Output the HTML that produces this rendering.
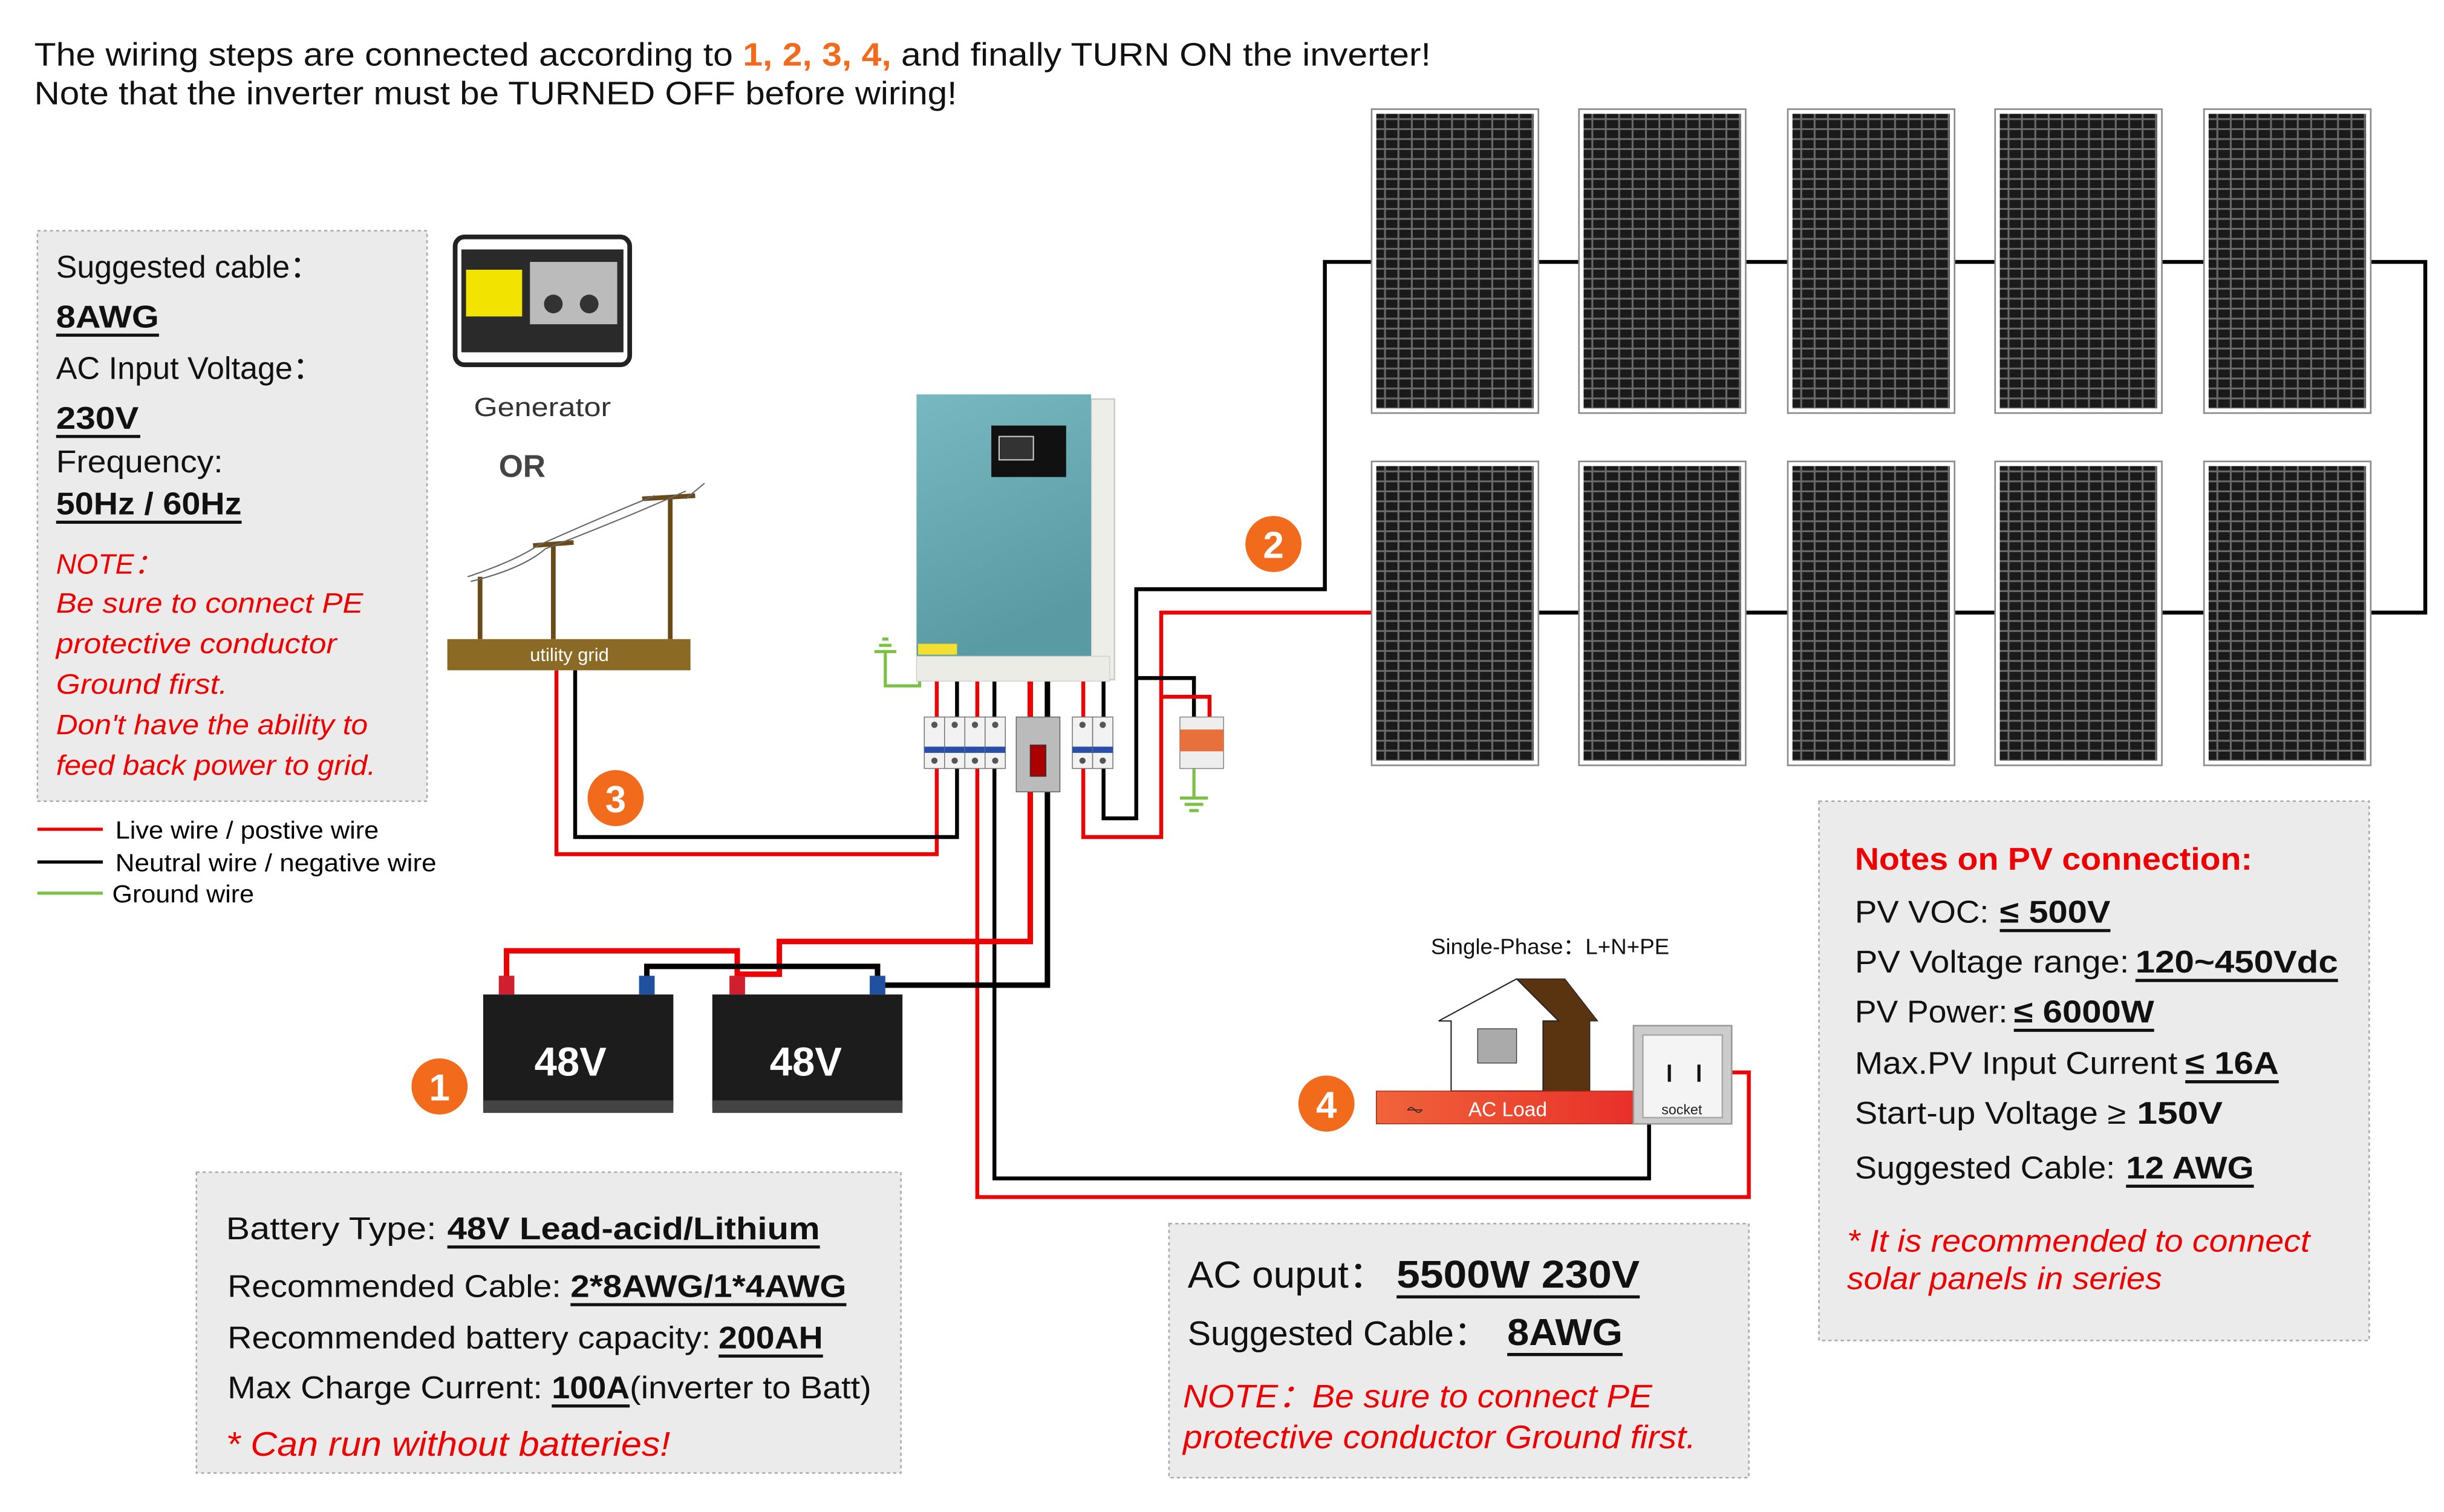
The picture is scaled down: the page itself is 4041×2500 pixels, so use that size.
<!DOCTYPE html>
<html><head><meta charset="utf-8"><style>
html,body{margin:0;padding:0;background:#fff;width:4041px;height:2500px;overflow:hidden}
svg{display:block}
text{font-family:"Liberation Sans",Arial,sans-serif}
</style></head><body>
<svg width="4041" height="2500" viewBox="0 0 1568 970" xmlns="http://www.w3.org/2000/svg">
<defs>
<pattern id="cells" x="0" y="0" width="8.6" height="6.4" patternUnits="userSpaceOnUse">
<rect width="8.6" height="6.4" fill="#6a6a6a"/><rect x="0.6" y="0.6" width="7.4" height="5.2" fill="#1a1a1a"/>
</pattern>
<linearGradient id="acg" x1="0" x2="1"><stop offset="0" stop-color="#f0643a"/><stop offset="1" stop-color="#e8302a"/></linearGradient>
<linearGradient id="inv" x1="0" y1="0" x2="0.3" y2="1"><stop offset="0" stop-color="#78b8c0"/><stop offset="1" stop-color="#5a9aa2"/></linearGradient>
<g id="panel"><rect x="0" y="0" width="107" height="195" fill="#fff" stroke="#888" stroke-width="1"/><rect x="3" y="3" width="101" height="189" fill="url(#cells)"/></g>
<g id="brk"><rect x="0" y="0" width="13" height="33" fill="#f2f2f2" stroke="#777" stroke-width="0.6"/><circle cx="6.5" cy="5" r="2" fill="#555"/><circle cx="6.5" cy="28" r="2" fill="#555"/><rect x="0" y="19" width="13" height="4" fill="#2a4fa8"/></g>
</defs>
<text x="22" y="42" font-size="21" fill="#111" textLength="896" lengthAdjust="spacingAndGlyphs">The wiring steps are connected according to <tspan fill="#f26a1b" font-weight="bold">1, 2, 3, 4,</tspan> and finally TURN ON the inverter!</text>
<text x="22" y="67" font-size="21" fill="#111" textLength="592" lengthAdjust="spacingAndGlyphs">Note that the inverter must be TURNED OFF before wiring!</text>

<g fill="none" stroke-width="2.5">
<polyline points="880,168 850,168 850,378 729,378 729,525 708,525 708,493" stroke="#000"/>
<polyline points="880,393 745,393 745,537 695,537 695,493" stroke="#e00"/>
<polyline points="987,168 1013,168" stroke="#000"/><polyline points="1120,168 1147,168" stroke="#000"/><polyline points="1254,168 1280,168" stroke="#000"/><polyline points="1387,168 1414,168" stroke="#000"/>
<polyline points="987,393 1013,393" stroke="#000"/><polyline points="1120,393 1147,393" stroke="#000"/><polyline points="1254,393 1280,393" stroke="#000"/><polyline points="1387,393 1414,393" stroke="#000"/>
<polyline points="1521,168 1556,168 1556,393 1521,393" stroke="#000"/>
<polyline points="729,435 766,435 766,462" stroke="#000"/>
<polyline points="745,447 776,447 776,462" stroke="#e00"/>
</g>
<use href="#panel" x="880" y="70"/><use href="#panel" x="1013" y="70"/><use href="#panel" x="1147" y="70"/><use href="#panel" x="1280" y="70"/><use href="#panel" x="1414" y="70"/>
<use href="#panel" x="880" y="296"/><use href="#panel" x="1013" y="296"/><use href="#panel" x="1147" y="296"/><use href="#panel" x="1280" y="296"/><use href="#panel" x="1414" y="296"/>

<g fill="none" stroke-width="2.5">
<polyline points="601,437 601,548 357,548 357,430" stroke="#e00"/>
<polyline points="614,437 614,537 369,537 369,430" stroke="#000"/>
<polyline points="627,437 627,768 1122,768 1122,688 1090,688" stroke="#e00"/>
<polyline points="638,437 638,756 1058,756 1058,688 1068,688" stroke="#000"/>
<polyline points="661,437 661,604 500,604 500,625 473,625 473,630" stroke="#e00" stroke-width="3.5"/>
<polyline points="672,437 672,632 563,632 563,628" stroke="#000" stroke-width="3.5"/>
<polyline points="325,630 325,610 473,610 473,630" stroke="#e00" stroke-width="3.5"/>
<polyline points="415,630 415,620 563,620 563,630" stroke="#000" stroke-width="3.5"/>
<polyline points="695,437 695,462" stroke="#e00"/><polyline points="708,437 708,462" stroke="#000"/>
<polyline points="590,430 590,440 568,440 568,418" stroke="#7ac143" stroke-width="2"/>
<polyline points="766,493 766,512" stroke="#7ac143" stroke-width="2"/>
</g>
<g stroke="#7ac143" stroke-width="2"><line x1="561" y1="418" x2="575" y2="418"/><line x1="564" y1="414" x2="572" y2="414"/><line x1="566" y1="410" x2="570" y2="410"/>
<line x1="757" y1="512" x2="775" y2="512"/><line x1="760" y1="516" x2="772" y2="516"/><line x1="763" y1="520" x2="769" y2="520"/></g>

<rect x="700" y="256" width="15" height="180" fill="#eeeee8" stroke="#ccc"/>
<rect x="588" y="253" width="112" height="168" fill="url(#inv)"/>
<rect x="588" y="421" width="124" height="16" fill="#ecece6" stroke="#ccc" stroke-width="0.5"/>
<rect x="636" y="273" width="48" height="33" fill="#111"/><rect x="641" y="280" width="22" height="15" fill="#333" stroke="#ccc" stroke-width="0.8"/>
<rect x="589" y="413" width="25" height="7" fill="#f2e030"/>
<use href="#brk" x="593" y="460"/><use href="#brk" x="606" y="460"/><use href="#brk" x="619" y="460"/><use href="#brk" x="632" y="460"/>
<rect x="652" y="460" width="28" height="48" fill="#bbb" stroke="#666" stroke-width="0.6"/><rect x="661" y="478" width="10" height="20" fill="#a00" stroke="#333" stroke-width="0.6"/>
<use href="#brk" x="688" y="460"/><use href="#brk" x="701" y="460"/>
<rect x="757" y="460" width="28" height="33" fill="#eee" stroke="#888" stroke-width="0.6"/><rect x="757" y="468" width="28" height="14" fill="#e8703a"/>

<rect x="24" y="148" width="250" height="366" fill="#ebebeb" stroke="#aaa" stroke-dasharray="2,2"/>
<g font-size="20" fill="#111">
<text x="36" y="178" textLength="170" lengthAdjust="spacingAndGlyphs">Suggested cable：</text>
<text x="36" y="210" font-weight="bold" textLength="66" lengthAdjust="spacingAndGlyphs">8AWG</text><line x1="36" y1="215" x2="102" y2="215" stroke="#111" stroke-width="2"/>
<text x="36" y="243" textLength="172" lengthAdjust="spacingAndGlyphs">AC Input Voltage：</text>
<text x="36" y="275" font-weight="bold" textLength="53" lengthAdjust="spacingAndGlyphs">230V</text><line x1="36" y1="280" x2="90" y2="280" stroke="#111" stroke-width="2"/>
<text x="36" y="303" textLength="107" lengthAdjust="spacingAndGlyphs">Frequency:</text>
<text x="36" y="330" font-weight="bold" textLength="119" lengthAdjust="spacingAndGlyphs">50Hz / 60Hz</text><line x1="36" y1="335" x2="155" y2="335" stroke="#111" stroke-width="2"/>
</g>
<g font-size="18" fill="#e00" font-style="italic">
<text x="36" y="368">NOTE：</text>
<text x="36" y="393" textLength="197" lengthAdjust="spacingAndGlyphs">Be sure to  connect PE</text>
<text x="36" y="419" textLength="180" lengthAdjust="spacingAndGlyphs">protective  conductor</text>
<text x="36" y="445" textLength="110" lengthAdjust="spacingAndGlyphs">Ground  first.</text>
<text x="36" y="471" textLength="200" lengthAdjust="spacingAndGlyphs">Don't have the ability to</text>
<text x="36" y="497" textLength="205" lengthAdjust="spacingAndGlyphs">feed back power to grid.</text>
</g>
<line x1="24" y1="532" x2="66" y2="532" stroke="#e00" stroke-width="2"/><text x="74" y="538" font-size="16" textLength="169" lengthAdjust="spacingAndGlyphs">Live wire / postive wire</text>
<line x1="24" y1="553" x2="66" y2="553" stroke="#000" stroke-width="2"/><text x="74" y="559" font-size="16" textLength="206" lengthAdjust="spacingAndGlyphs">Neutral wire / negative wire</text>
<line x1="24" y1="573" x2="66" y2="573" stroke="#7ac143" stroke-width="2"/><text x="72" y="579" font-size="16" textLength="91" lengthAdjust="spacingAndGlyphs">Ground wire</text>

<!-- generator -->
<g stroke="#222" stroke-width="3" fill="none"><rect x="292" y="152" width="112" height="82" rx="6"/></g>
<rect x="296" y="160" width="104" height="66" fill="#2a2a2a"/>
<rect x="299" y="173" width="36" height="30" fill="#f2e300"/><rect x="340" y="168" width="56" height="40" fill="#bbb"/>
<circle cx="355" cy="195" r="6" fill="#333"/><circle cx="378" cy="195" r="6" fill="#333"/>
<text x="304" y="267" font-size="17" fill="#333" textLength="88" lengthAdjust="spacingAndGlyphs">Generator</text>
<text x="320" y="306" font-size="20" font-weight="bold" fill="#444">OR</text>
<g stroke="#6b4a1a" stroke-width="3"><line x1="430" y1="318" x2="430" y2="410"/><line x1="355" y1="350" x2="355" y2="410"/><line x1="308" y1="370" x2="308" y2="410"/><line x1="412" y1="320" x2="446" y2="318"/><line x1="342" y1="350" x2="368" y2="348"/></g>
<g stroke="#666" stroke-width="0.8" fill="none"><path d="M300,370 Q330,360 345,350 Q390,330 420,318"/><path d="M302,373 Q335,365 350,352 Q395,335 440,315"/><path d="M440,320 L452,310"/></g>
<rect x="287" y="410" width="156" height="20" fill="#8b6a25"/>
<text x="340" y="424" font-size="12" fill="#fff">utility grid</text>

<g font-weight="bold" font-size="24" fill="#fff" text-anchor="middle">
<circle cx="817" cy="349" r="18" fill="#f26a1b"/><text x="817" y="358">2</text>
<circle cx="395" cy="512" r="18" fill="#f26a1b"/><text x="395" y="521">3</text>
<circle cx="282" cy="697" r="18" fill="#f26a1b"/><text x="282" y="706">1</text>
<circle cx="851" cy="708" r="18" fill="#f26a1b"/><text x="851" y="717">4</text>
</g>

<g>
<rect x="320" y="626" width="10" height="12" fill="#d02030"/><rect x="410" y="626" width="10" height="12" fill="#2050a0"/>
<rect x="310" y="638" width="122" height="72" fill="#1c1c1c"/><rect x="310" y="706" width="122" height="8" fill="#444"/>
<text x="366" y="690" font-size="26" font-weight="bold" fill="#fff" text-anchor="middle">48V</text>
<rect x="468" y="626" width="10" height="12" fill="#d02030"/><rect x="558" y="626" width="10" height="12" fill="#2050a0"/>
<rect x="457" y="638" width="122" height="72" fill="#1c1c1c"/><rect x="457" y="706" width="122" height="8" fill="#444"/>
<text x="517" y="690" font-size="26" font-weight="bold" fill="#fff" text-anchor="middle">48V</text>
</g>

<text x="918" y="612" font-size="14" fill="#111" textLength="153" lengthAdjust="spacingAndGlyphs">Single-Phase：L+N+PE</text>
<polygon points="973,628 1004,628 1025,655 1020,655 1020,700 988,700" fill="#5a3410" stroke="#222" stroke-width="0.5"/>
<polygon points="923,655 973,628 1000,655 990,655 990,700 931,700 931,655" fill="#fff" stroke="#222" stroke-width="0.8"/>
<rect x="948" y="660" width="25" height="22" fill="#aaa" stroke="#333" stroke-width="0.5"/>
<rect x="883" y="700" width="165" height="21" fill="url(#acg)" stroke="#a02010" stroke-width="0.5"/>
<text x="942" y="716" font-size="13" fill="#fff">AC Load</text>
<text x="902" y="716" font-size="14" fill="#222">⏦</text>
<rect x="1048" y="658" width="63" height="63" fill="#ccc" stroke="#999"/><rect x="1054" y="664" width="51" height="53" fill="#f4f4f4" stroke="#aaa"/>
<text x="1079" y="715" font-size="9" text-anchor="middle" fill="#222">socket</text>
<line x1="1071" y1="683" x2="1071" y2="694" stroke="#111" stroke-width="2"/><line x1="1090" y1="683" x2="1090" y2="694" stroke="#111" stroke-width="2"/>

<rect x="126" y="752" width="452" height="193" fill="#ebebeb" stroke="#aaa" stroke-dasharray="2,2"/>
<g font-size="20" fill="#111">
<text x="145" y="795" textLength="135" lengthAdjust="spacingAndGlyphs">Battery Type:</text>
<text x="287" y="795" font-weight="bold" textLength="239" lengthAdjust="spacingAndGlyphs">48V Lead-acid/Lithium</text><line x1="287" y1="800" x2="526" y2="800" stroke="#111" stroke-width="2"/>
<text x="146" y="832" textLength="214" lengthAdjust="spacingAndGlyphs">Recommended Cable:</text>
<text x="366" y="832" font-weight="bold" textLength="177" lengthAdjust="spacingAndGlyphs">2*8AWG/1*4AWG</text><line x1="366" y1="837" x2="543" y2="837" stroke="#111" stroke-width="2"/>
<text x="146" y="865" textLength="310" lengthAdjust="spacingAndGlyphs">Recommended battery capacity:</text>
<text x="461" y="865" font-weight="bold" textLength="67" lengthAdjust="spacingAndGlyphs">200AH</text><line x1="461" y1="870" x2="528" y2="870" stroke="#111" stroke-width="2"/>
<text x="146" y="897" textLength="202" lengthAdjust="spacingAndGlyphs">Max Charge Current:</text>
<text x="354" y="897" font-weight="bold" textLength="50" lengthAdjust="spacingAndGlyphs">100A</text><line x1="354" y1="902" x2="404" y2="902" stroke="#111" stroke-width="2"/>
<text x="404" y="897" textLength="155" lengthAdjust="spacingAndGlyphs">(inverter to Batt)</text>
</g>
<text x="145" y="934" font-size="22" font-style="italic" fill="#e00" textLength="285" lengthAdjust="spacingAndGlyphs">* Can run without batteries!</text>

<rect x="750" y="785" width="372" height="163" fill="#ebebeb" stroke="#aaa" stroke-dasharray="2,2"/>
<text x="762" y="826" font-size="24" fill="#111" textLength="128" lengthAdjust="spacingAndGlyphs">AC ouput：</text>
<text x="896" y="826" font-size="25" font-weight="bold" fill="#111" textLength="156" lengthAdjust="spacingAndGlyphs">5500W 230V</text><line x1="896" y1="832" x2="1052" y2="832" stroke="#111" stroke-width="2"/>
<text x="762" y="863" font-size="22" fill="#111" textLength="193" lengthAdjust="spacingAndGlyphs">Suggested Cable：</text>
<text x="967" y="863" font-size="24" font-weight="bold" fill="#111" textLength="74" lengthAdjust="spacingAndGlyphs">8AWG</text><line x1="967" y1="869" x2="1041" y2="869" stroke="#111" stroke-width="2"/>
<text x="759" y="903" font-size="21" font-style="italic" fill="#e00" textLength="301" lengthAdjust="spacingAndGlyphs">NOTE：Be sure to  connect PE</text>
<text x="759" y="929" font-size="21" font-style="italic" fill="#e00" textLength="329" lengthAdjust="spacingAndGlyphs">protective  conductor Ground  first.</text>

<rect x="1167" y="514" width="353" height="346" fill="#ebebeb" stroke="#aaa" stroke-dasharray="2,2"/>
<text x="1190" y="558" font-size="20" font-weight="bold" fill="#e00" textLength="255" lengthAdjust="spacingAndGlyphs">Notes on PV connection:</text>
<g font-size="20" fill="#111">
<text x="1190" y="592" textLength="86" lengthAdjust="spacingAndGlyphs">PV VOC:</text>
<text x="1283" y="592" font-weight="bold" textLength="71" lengthAdjust="spacingAndGlyphs">≤ 500V</text><line x1="1283" y1="597" x2="1354" y2="597" stroke="#111" stroke-width="2"/>
<text x="1190" y="624" textLength="176" lengthAdjust="spacingAndGlyphs">PV Voltage range:</text>
<text x="1370" y="624" font-weight="bold" textLength="130" lengthAdjust="spacingAndGlyphs">120~450Vdc</text><line x1="1370" y1="629" x2="1500" y2="629" stroke="#111" stroke-width="2"/>
<text x="1190" y="656" textLength="98" lengthAdjust="spacingAndGlyphs">PV Power:</text>
<text x="1292" y="656" font-weight="bold" textLength="90" lengthAdjust="spacingAndGlyphs">≤ 6000W</text><line x1="1292" y1="661" x2="1382" y2="661" stroke="#111" stroke-width="2"/>
<text x="1190" y="689" textLength="207" lengthAdjust="spacingAndGlyphs">Max.PV Input Current</text>
<text x="1402" y="689" font-weight="bold" textLength="60" lengthAdjust="spacingAndGlyphs">≤ 16A</text><line x1="1402" y1="694" x2="1462" y2="694" stroke="#111" stroke-width="2"/>
<text x="1190" y="721" textLength="174" lengthAdjust="spacingAndGlyphs">Start-up Voltage ≥</text>
<text x="1371" y="721" font-weight="bold" textLength="55" lengthAdjust="spacingAndGlyphs">150V</text>
<text x="1190" y="756" textLength="167" lengthAdjust="spacingAndGlyphs">Suggested Cable:</text>
<text x="1364" y="756" font-weight="bold" textLength="82" lengthAdjust="spacingAndGlyphs">12 AWG</text><line x1="1364" y1="761" x2="1446" y2="761" stroke="#111" stroke-width="2"/>
</g>
<text x="1185" y="803" font-size="20" font-style="italic" fill="#e00" textLength="297" lengthAdjust="spacingAndGlyphs">* It is recommended to connect</text>
<text x="1185" y="827" font-size="20" font-style="italic" fill="#e00" textLength="202" lengthAdjust="spacingAndGlyphs">solar panels in series</text>
</svg>
</body></html>
